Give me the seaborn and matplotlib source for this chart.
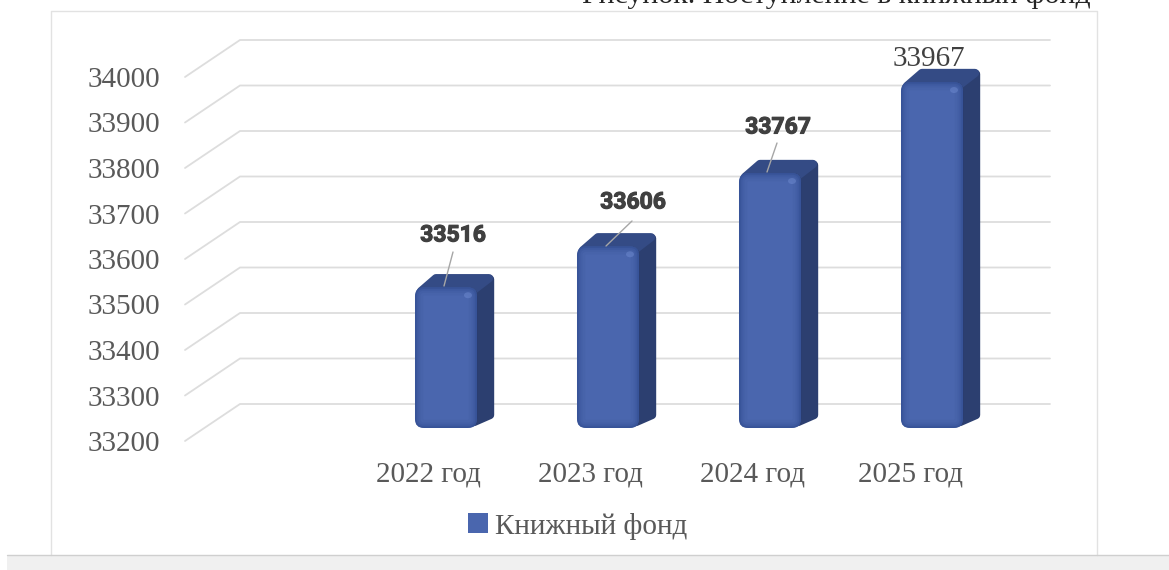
import matplotlib
matplotlib.use('Agg')
import matplotlib.pyplot as plt
import matplotlib.patheffects as pe
import seaborn as sns
import pandas as pd
from matplotlib.patches import FancyBboxPatch, Polygon, Rectangle, Ellipse
from matplotlib.lines import Line2D
from matplotlib.transforms import IdentityTransform, ScaledTranslation

# values
years = ['2022 год', '2023 год', '2024 год', '2025 год']
fund = [33516, 33606, 33767, 33967]
y_ticks = [33200, 33300, 33400, 33500, 33600, 33700, 33800, 33900, 34000]
series_name = 'Книжный фонд'
caption = 'Рисунок. Поступление в книжный фонд'

sns.set_theme(style='white')
plt.rcParams['font.family'] = ['Liberation Serif', 'DejaVu Serif']

W, H = 1169, 570
GREY = '#595959'
GRID = '#DDDDDD'
FACE = '#4A66AE'
SIDE = '#2C3F70'
TOP = '#344B85'
PIX = IdentityTransform()

fig = plt.figure(figsize=(W / 100, H / 100), dpi=100, facecolor='white')
ax = fig.add_axes([185 / W, (H - 441) / H, 810 / W, 364 / H])
ax.patch.set_alpha(0)

df = pd.DataFrame({'year': years, 'fund': fund})
# first category stays empty, like in the source chart
order = [' '] + years
sns.barplot(data=df, x='year', y='fund', order=order, width=0.383, color=FACE,
            saturation=1, label=series_name, ax=ax, zorder=4, edgecolor='none')
ax.set_xlim(-0.5, 4.5)
ax.set_ylim(y_ticks[0], y_ticks[-1])
ax.set_yticks(y_ticks)
ax.set_xlabel('')
ax.set_ylabel('')
ax.xaxis.set_ticks_position('none')
ax.tick_params(axis='y', length=0, pad=18, labelsize=21, labelcolor=GREY)
ax.tick_params(axis='x', length=0, pad=15, labelsize=21, labelcolor=GREY)
ax.set_xticks([1, 2, 3, 4], years)
# last label sits a bit to the left in the source
last = ax.get_xticklabels()[3]
last.set_transform(last.get_transform() + ScaledTranslation(-4 / 100, 0, fig.dpi_scale_trans))
sns.despine(ax=ax, left=True, bottom=True)


def to_px(x, y):
    return ax.transData.transform((x, y))


# page furniture: chart frame and grey band at the bottom
fig.add_artist(Line2D([51, 51, 1097, 1097], [H - 555, H - 11, H - 11, H - 555],
                      transform=PIX, color='#E2E2E2', lw=1))
fig.add_artist(Rectangle((7, 0), W - 7, H - 555, transform=PIX, facecolor='#F0F0F0',
                         edgecolor='none'))
fig.add_artist(Line2D([7, W], [H - 555, H - 555], transform=PIX, color='#CFCFCF', lw=1))

# back wall gridlines with the diagonal floor/side part
for t in y_ticks:
    x0, y0 = to_px(-0.5, t)
    x1, y1 = to_px(4.5, t)
    ax.plot([x0, x0 + 55, x1 + 55], [y0, y0 + 37, y1 + 37], transform=PIX,
            color=GRID, lw=1.3, clip_on=False, zorder=1)

# extrude the seaborn bars into 3D-looking columns
DX, DY = 19, 13
DEPTH_X, DEPTH_Y = 17, 13
label_pos = [(0, 452, 235, (453, 252), (444, 286)),
             (1, 632, 202, (632, 221), (606, 246)),
             (2, 777, 127, (777, 143), (767, 172))]

bars = [p for p in ax.patches if p.get_height() > 0]
for bar, val in zip(bars, fund):
    left = bar.get_x()
    right = left + bar.get_width()
    xa, ya = to_px(left, y_ticks[0])
    xb, yb = to_px(right, val)
    xa, xb = xa + DX - 1, xb + DX - 1
    ya, yb = ya + DY, yb + DY - 3

    side = Polygon([(xb - 8, ya + 8), (xb - 3, ya + 6), (xb + DEPTH_X - 4, ya + DEPTH_Y),
                    (xb + DEPTH_X - 4, yb + DEPTH_Y - 5), (xb - 3, yb - 5), (xb - 8, yb - 5)],
                   closed=True, transform=PIX, facecolor=SIDE, edgecolor=SIDE, lw=6,
                   joinstyle='round', zorder=3, clip_on=False)
    top = Polygon([(xa + 6, yb - 10), (xa + 6, yb - 4), (xa + DEPTH_X + 4, yb + DEPTH_Y - 4),
                   (xb + DEPTH_X - 5, yb + DEPTH_Y - 4), (xb - 5, yb - 4), (xb - 5, yb - 10)],
                  closed=True, transform=PIX, facecolor=TOP, edgecolor=TOP, lw=6,
                  joinstyle='round', zorder=3, clip_on=False)
    ax.add_patch(side)
    ax.add_patch(top)

    # front face is the seaborn bar itself, clipped to a rounded box
    bar.set_bounds(xa, ya, xb - xa, yb - ya)
    bar.set_transform(PIX)
    box = dict(boxstyle='round,pad=0,rounding_size=9', transform=PIX)
    clip = FancyBboxPatch((xa, ya), xb - xa, yb - ya, **box)
    bar.set_clip_path(clip)
    for lw, alpha in [(12, 0.06), (8, 0.08), (5, 0.12), (2.5, 0.2)]:
        edge = FancyBboxPatch((xa, ya), xb - xa, yb - ya, facecolor='none',
                              edgecolor='#1F3A78', lw=lw, alpha=alpha, zorder=5, **box)
        ax.add_patch(edge)
        edge.set_clip_path(clip)
    ax.add_patch(Ellipse((xb - 9, yb - 8), 8, 6, transform=PIX, facecolor='#7F9BE0',
                         alpha=0.35, edgecolor='none', zorder=6))

# data labels with leader lines
for i, lx, ly, p0, p1 in label_pos:
    ax.plot([p0[0], p1[0]], [H - p0[1], H - p1[1]], transform=PIX, color='#A6A6A6', lw=1,
            clip_on=False, zorder=7)
    ax.text(lx + 1, H - ly, str(fund[i]), transform=PIX, ha='center', va='center',
            fontsize=16.5, fontweight='bold', color='#404040', zorder=8,
            family=['Roboto', 'DejaVu Sans'],
            path_effects=[pe.withStroke(linewidth=0.8, foreground='#404040')])
ax.text(929, H - 59, str(fund[3]), transform=PIX, ha='center', va='center', fontsize=21,
        color='#404040', zorder=8)

handles, labels = ax.get_legend_handles_labels()
ax.legend(handles[:1], labels[:1], loc='center left', frameon=False, fontsize=21,
          labelcolor=GREY, handlelength=0.68, handleheight=0.68, handletextpad=0.25,
          bbox_to_anchor=(468, H - 526), bbox_transform=PIX, borderpad=0, borderaxespad=0)

# caption of the page, cut by the upper edge like in the source
fig.text(836 / W, (H - 3) / H, caption, ha='center', va='baseline', fontsize=21.4,
         color='#262626')

fig.savefig('out.png', dpi=100)
